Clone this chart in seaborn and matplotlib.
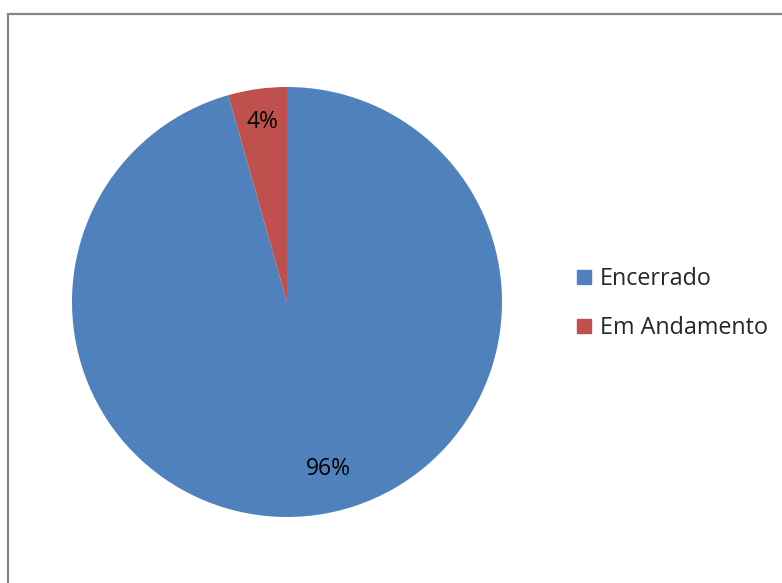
import matplotlib
matplotlib.use("Agg")
import numpy as np
import matplotlib.pyplot as plt
from matplotlib.lines import Line2D
from matplotlib.patches import Rectangle
import seaborn as sns

categories = ["Encerrado", "Em Andamento"]
values = [95.6, 4.4]
colors = ["#4F81BD", "#C0504D"]

sns.set_theme(style="white")
plt.rcParams["font.family"] = ["Open Sans", "DejaVu Sans"]

W, H = 782, 583
fig = plt.figure(figsize=(W / 100, H / 100), dpi=100)
fig.patch.set_facecolor("white")

# outer border
fig.patches.append(Rectangle((8 / W, -0.1), 1.2, 1 - 14 / H + 0.1, transform=fig.transFigure,
                             fill=False, edgecolor="#868686", linewidth=1.6, zorder=0))

cx, cy, r = 287, 302, 215
ax = fig.add_axes([(cx - r) / W, 1 - (cy + r) / H, 2 * r / W, 2 * r / H])
wedges, texts, autotexts = ax.pie(values, colors=colors, startangle=90, counterclock=False,
                                  autopct="%.0f%%", pctdistance=0.845,
                                  wedgeprops=dict(linewidth=0),
                                  textprops=dict(fontsize=16.5, color="black"))
# best-fit style placement of the large label
ang = np.deg2rad(-76)
autotexts[0].set_position((0.8 * np.cos(ang), 0.8 * np.sin(ang)))
ax.set_xlim(-1, 1)
ax.set_ylim(-1, 1)
ax.set_aspect("auto")
ax.axis("off")

handles = [Line2D([0], [0], marker="s", linestyle="none", markersize=9.5,
                  markerfacecolor=c, markeredgecolor=c) for c in colors]
fig.legend(handles, categories, loc="center left", bbox_to_anchor=(568 / W, 1 - 303.5 / H),
           frameon=False, fontsize=16.8, handlelength=0.6, handletextpad=0.35,
           labelspacing=1.1, borderaxespad=0)

fig.savefig("out.png", dpi=100, facecolor="white")
